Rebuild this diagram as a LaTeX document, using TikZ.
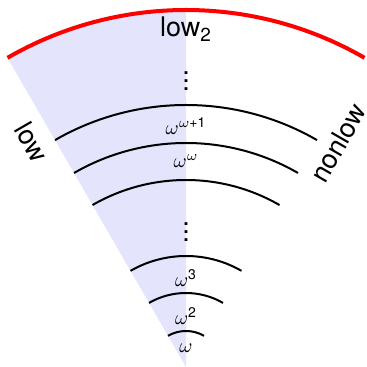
\documentclass[tikz,border=0pt]{standalone}
\usepackage{amsmath}
\usepackage{fontspec}
\setmainfont{TeX Gyre Heros}
\definecolor{wedgeblue}{RGB}{228,228,252}
\begin{document}
\begin{tikzpicture}[x=0.5pt,y=0.5pt,
  ordarc/.style={line width=1pt,black},
  toparc/.style={line width=2pt,red},
  biglabel/.style={font=\fontsize{13.5}{16}\selectfont,inner sep=0pt},
  ordlabel/.style={font=\fontsize{10}{12}\selectfont,inner sep=0pt}]
\useasboundingbox (-186,0) rectangle (180,367);
% shaded low part
\fill[wedgeblue] (0,0) -- (120:357) arc[start angle=120,end angle=90,radius=357] -- cycle;
% ordinal arcs
\foreach \r in {36,74,111,187,224,262}
  \draw[ordarc] (60:\r) arc[start angle=60,end angle=120,radius=\r];
% red top arc
\draw[toparc] (60:357) arc[start angle=60,end angle=120,radius=357];
% labels
\node[biglabel,anchor=base] (low2) at (0,330) {low\textsubscript{2}};
\node[biglabel] (dotsTop) at (0,292) {$\vdots$};
\node[biglabel] (dotsMid) at (0,141) {$\vdots$};
\node[ordlabel] (wwp) at (0,241) {$\omega^{\omega\text{+1}}$};
\node[ordlabel] (ww) at (0,206) {$\omega^{\omega}$};
\node[ordlabel] (w3) at (0,89) {$\omega^{\text{3}}$};
\node[ordlabel] (w2) at (0,51) {$\omega^{\text{2}}$};
\node[ordlabel] (w1) at (0,19) {$\omega$};
\node[biglabel,rotate=-60] (lowlab) at (-154,225) {low};
\node[biglabel,rotate=60] (nonlowlab) at (152,224) {nonlow};
\end{tikzpicture}
\end{document}
